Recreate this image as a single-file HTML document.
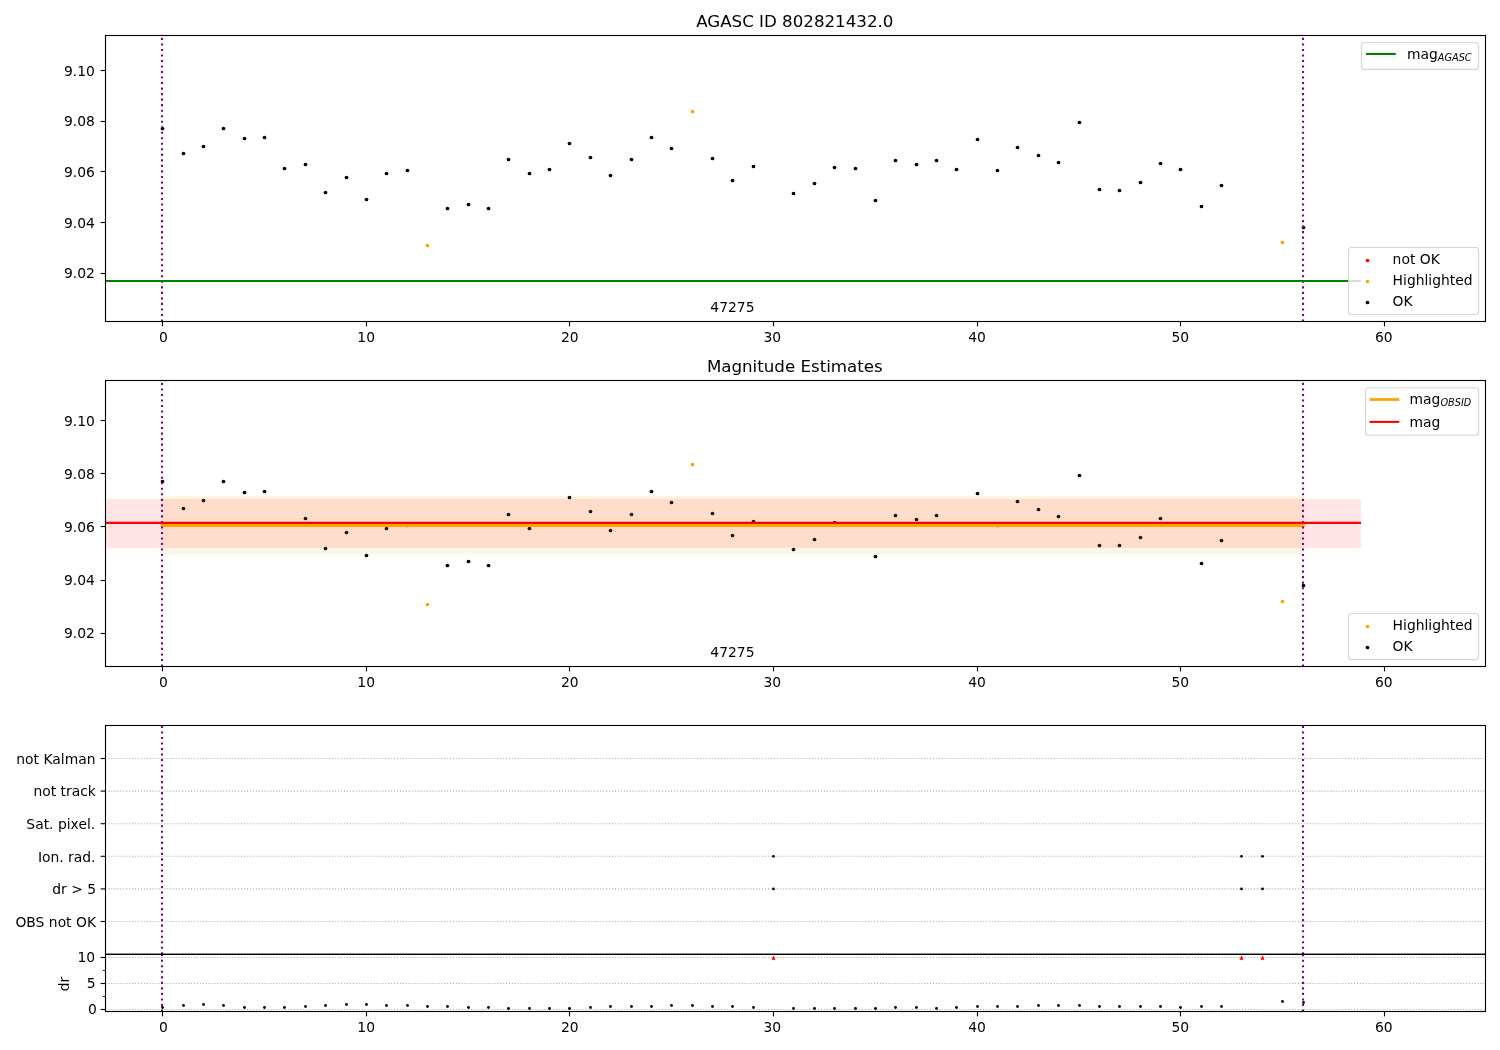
<!DOCTYPE html>
<html><head><meta charset="utf-8"><title>AGASC ID 802821432.0</title><style>html,body{margin:0;padding:0;background:#fff;}svg{display:block;}</style></head><body>
<svg width="1500" height="1050" viewBox="0 0 1500 1050" font-family="'DejaVu Sans', 'Liberation Sans', sans-serif" fill="#000">
<rect x="0" y="0" width="1500" height="1050" fill="#fff"/>
<clipPath id="c1"><rect x="105.5" y="35.5" width="1380.0" height="286.0"/></clipPath>
<g clip-path="url(#c1)">
<circle cx="162.5" cy="128.5" r="1.85" fill="#000"/>
<circle cx="183.5" cy="153.5" r="1.85" fill="#000"/>
<circle cx="203.5" cy="146.5" r="1.85" fill="#000"/>
<circle cx="223.5" cy="128.5" r="1.85" fill="#000"/>
<circle cx="244.5" cy="138.5" r="1.85" fill="#000"/>
<circle cx="264.5" cy="137.5" r="1.85" fill="#000"/>
<circle cx="284.5" cy="168.5" r="1.85" fill="#000"/>
<circle cx="305.5" cy="164.5" r="1.85" fill="#000"/>
<circle cx="325.5" cy="192.5" r="1.85" fill="#000"/>
<circle cx="346.5" cy="177.5" r="1.85" fill="#000"/>
<circle cx="366.5" cy="199.5" r="1.85" fill="#000"/>
<circle cx="386.5" cy="173.5" r="1.85" fill="#000"/>
<circle cx="407.5" cy="170.5" r="1.85" fill="#000"/>
<circle cx="427.5" cy="245.5" r="1.85" fill="#ffa500"/>
<circle cx="447.5" cy="208.5" r="1.85" fill="#000"/>
<circle cx="468.5" cy="204.5" r="1.85" fill="#000"/>
<circle cx="488.5" cy="208.5" r="1.85" fill="#000"/>
<circle cx="508.5" cy="159.5" r="1.85" fill="#000"/>
<circle cx="529.5" cy="173.5" r="1.85" fill="#000"/>
<circle cx="549.5" cy="169.5" r="1.85" fill="#000"/>
<circle cx="569.5" cy="143.5" r="1.85" fill="#000"/>
<circle cx="590.5" cy="157.5" r="1.85" fill="#000"/>
<circle cx="610.5" cy="175.5" r="1.85" fill="#000"/>
<circle cx="631.5" cy="159.5" r="1.85" fill="#000"/>
<circle cx="651.5" cy="137.5" r="1.85" fill="#000"/>
<circle cx="671.5" cy="148.5" r="1.85" fill="#000"/>
<circle cx="692.5" cy="111.5" r="1.85" fill="#ffa500"/>
<circle cx="712.5" cy="158.5" r="1.85" fill="#000"/>
<circle cx="732.5" cy="180.5" r="1.85" fill="#000"/>
<circle cx="753.5" cy="166.5" r="1.85" fill="#000"/>
<circle cx="793.5" cy="193.5" r="1.85" fill="#000"/>
<circle cx="814.5" cy="183.5" r="1.85" fill="#000"/>
<circle cx="834.5" cy="167.5" r="1.85" fill="#000"/>
<circle cx="855.5" cy="168.5" r="1.85" fill="#000"/>
<circle cx="875.5" cy="200.5" r="1.85" fill="#000"/>
<circle cx="895.5" cy="160.5" r="1.85" fill="#000"/>
<circle cx="916.5" cy="164.5" r="1.85" fill="#000"/>
<circle cx="936.5" cy="160.5" r="1.85" fill="#000"/>
<circle cx="956.5" cy="169.5" r="1.85" fill="#000"/>
<circle cx="977.5" cy="139.5" r="1.85" fill="#000"/>
<circle cx="997.5" cy="170.5" r="1.85" fill="#000"/>
<circle cx="1017.5" cy="147.5" r="1.85" fill="#000"/>
<circle cx="1038.5" cy="155.5" r="1.85" fill="#000"/>
<circle cx="1058.5" cy="162.5" r="1.85" fill="#000"/>
<circle cx="1079.5" cy="122.5" r="1.85" fill="#000"/>
<circle cx="1099.5" cy="189.5" r="1.85" fill="#000"/>
<circle cx="1119.5" cy="190.5" r="1.85" fill="#000"/>
<circle cx="1140.5" cy="182.5" r="1.85" fill="#000"/>
<circle cx="1160.5" cy="163.5" r="1.85" fill="#000"/>
<circle cx="1180.5" cy="169.5" r="1.85" fill="#000"/>
<circle cx="1201.5" cy="206.5" r="1.85" fill="#000"/>
<circle cx="1221.5" cy="185.5" r="1.85" fill="#000"/>
<circle cx="1282.5" cy="242.5" r="1.85" fill="#ffa500"/>
<circle cx="1303.5" cy="227.5" r="1.85" fill="#000"/>
<line x1="162.0" y1="321.5" x2="162.0" y2="35.5" stroke="#800080" stroke-width="2.0833" stroke-dasharray="2.0833 3.4375"/>
<line x1="1303.0" y1="321.5" x2="1303.0" y2="35.5" stroke="#800080" stroke-width="2.0833" stroke-dasharray="2.0833 3.4375"/>
<line x1="105.5" y1="281.0" x2="1361.0" y2="281.0" stroke="#008000" stroke-width="2.0833"/>
</g>
<text x="732.40" y="311.90" font-size="13.8889" text-anchor="middle">47275</text>
<rect x="105.5" y="35.5" width="1380.0" height="286.0" fill="none" stroke="#000" stroke-width="1.1111" stroke-linejoin="miter"/>
<line x1="162.5" y1="321.5" x2="162.5" y2="326.361" stroke="#000" stroke-width="1.1111"/>
<text x="163.30" y="341.80" font-size="13.8889" text-anchor="middle">0</text>
<line x1="366.5" y1="321.5" x2="366.5" y2="326.361" stroke="#000" stroke-width="1.1111"/>
<text x="366.20" y="341.80" font-size="13.8889" text-anchor="middle">10</text>
<line x1="569.5" y1="321.5" x2="569.5" y2="326.361" stroke="#000" stroke-width="1.1111"/>
<text x="569.80" y="341.80" font-size="13.8889" text-anchor="middle">20</text>
<line x1="773.5" y1="321.5" x2="773.5" y2="326.361" stroke="#000" stroke-width="1.1111"/>
<text x="772.35" y="341.80" font-size="13.8889" text-anchor="middle">30</text>
<line x1="977.5" y1="321.5" x2="977.5" y2="326.361" stroke="#000" stroke-width="1.1111"/>
<text x="977.10" y="341.80" font-size="13.8889" text-anchor="middle">40</text>
<line x1="1180.5" y1="321.5" x2="1180.5" y2="326.361" stroke="#000" stroke-width="1.1111"/>
<text x="1180.35" y="341.80" font-size="13.8889" text-anchor="middle">50</text>
<line x1="1384.5" y1="321.5" x2="1384.5" y2="326.361" stroke="#000" stroke-width="1.1111"/>
<text x="1383.80" y="341.80" font-size="13.8889" text-anchor="middle">60</text>
<line x1="100.639" y1="70.5" x2="105.5" y2="70.5" stroke="#000" stroke-width="1.1111"/>
<text x="94.80" y="76.00" font-size="13.8889" text-anchor="end">9.10</text>
<line x1="100.639" y1="121.5" x2="105.5" y2="121.5" stroke="#000" stroke-width="1.1111"/>
<text x="94.80" y="126.00" font-size="13.8889" text-anchor="end">9.08</text>
<line x1="100.639" y1="171.5" x2="105.5" y2="171.5" stroke="#000" stroke-width="1.1111"/>
<text x="94.80" y="177.00" font-size="13.8889" text-anchor="end">9.06</text>
<line x1="100.639" y1="222.5" x2="105.5" y2="222.5" stroke="#000" stroke-width="1.1111"/>
<text x="94.80" y="228.00" font-size="13.8889" text-anchor="end">9.04</text>
<line x1="100.639" y1="273.5" x2="105.5" y2="273.5" stroke="#000" stroke-width="1.1111"/>
<text x="94.80" y="278.00" font-size="13.8889" text-anchor="end">9.02</text>
<text x="794.80" y="27.20" font-size="16.6667" text-anchor="middle">AGASC ID 802821432.0</text>
<rect x="1361.4" y="42.5" width="117.19999999999982" height="26.900000000000006" rx="2.8" ry="2.8" fill="#fff" fill-opacity="0.8" stroke="#cccccc" stroke-opacity="0.8" stroke-width="1.1111"/>
<line x1="1366.96" y1="53.95" x2="1394.74" y2="53.95" stroke="#008000" stroke-width="2.0833" stroke-linecap="square"/>
<text x="1407.0" y="58.8" font-size="13.8889">mag<tspan font-style="italic" font-size="9.7222" dy="1.9">AGASC</tspan></text>
<rect x="1348.5" y="247.5" width="130.0999999999999" height="67.0" rx="2.8" ry="2.8" fill="#fff" fill-opacity="0.8" stroke="#cccccc" stroke-opacity="0.8" stroke-width="1.1111"/>
<circle cx="1367.5" cy="260.5" r="1.85" fill="#ff0000"/>
<text x="1392.60" y="264.10" font-size="13.8889" text-anchor="start">not OK</text>
<circle cx="1367.5" cy="281.5" r="1.85" fill="#ffa500"/>
<text x="1392.60" y="285.10" font-size="13.8889" text-anchor="start">Highlighted</text>
<circle cx="1367.5" cy="302.5" r="1.85" fill="#000"/>
<text x="1392.60" y="306.10" font-size="13.8889" text-anchor="start">OK</text>
<clipPath id="c2"><rect x="105.5" y="380.5" width="1380.0" height="286.0"/></clipPath>
<g clip-path="url(#c2)">
<circle cx="162.5" cy="481.5" r="1.85" fill="#000"/>
<circle cx="183.5" cy="508.5" r="1.85" fill="#000"/>
<circle cx="203.5" cy="500.5" r="1.85" fill="#000"/>
<circle cx="223.5" cy="481.5" r="1.85" fill="#000"/>
<circle cx="244.5" cy="492.5" r="1.85" fill="#000"/>
<circle cx="264.5" cy="491.5" r="1.85" fill="#000"/>
<circle cx="284.5" cy="523.5" r="1.85" fill="#000"/>
<circle cx="305.5" cy="518.5" r="1.85" fill="#000"/>
<circle cx="325.5" cy="548.5" r="1.85" fill="#000"/>
<circle cx="346.5" cy="532.5" r="1.85" fill="#000"/>
<circle cx="366.5" cy="555.5" r="1.85" fill="#000"/>
<circle cx="386.5" cy="528.5" r="1.85" fill="#000"/>
<circle cx="407.5" cy="525.5" r="1.85" fill="#000"/>
<circle cx="427.5" cy="604.5" r="1.85" fill="#ffa500"/>
<circle cx="447.5" cy="565.5" r="1.85" fill="#000"/>
<circle cx="468.5" cy="561.5" r="1.85" fill="#000"/>
<circle cx="488.5" cy="565.5" r="1.85" fill="#000"/>
<circle cx="508.5" cy="514.5" r="1.85" fill="#000"/>
<circle cx="529.5" cy="528.5" r="1.85" fill="#000"/>
<circle cx="549.5" cy="524.5" r="1.85" fill="#000"/>
<circle cx="569.5" cy="497.5" r="1.85" fill="#000"/>
<circle cx="590.5" cy="511.5" r="1.85" fill="#000"/>
<circle cx="610.5" cy="530.5" r="1.85" fill="#000"/>
<circle cx="631.5" cy="514.5" r="1.85" fill="#000"/>
<circle cx="651.5" cy="491.5" r="1.85" fill="#000"/>
<circle cx="671.5" cy="502.5" r="1.85" fill="#000"/>
<circle cx="692.5" cy="464.5" r="1.85" fill="#ffa500"/>
<circle cx="712.5" cy="513.5" r="1.85" fill="#000"/>
<circle cx="732.5" cy="535.5" r="1.85" fill="#000"/>
<circle cx="753.5" cy="521.5" r="1.85" fill="#000"/>
<circle cx="793.5" cy="549.5" r="1.85" fill="#000"/>
<circle cx="814.5" cy="539.5" r="1.85" fill="#000"/>
<circle cx="834.5" cy="522.5" r="1.85" fill="#000"/>
<circle cx="855.5" cy="523.5" r="1.85" fill="#000"/>
<circle cx="875.5" cy="556.5" r="1.85" fill="#000"/>
<circle cx="895.5" cy="515.5" r="1.85" fill="#000"/>
<circle cx="916.5" cy="519.5" r="1.85" fill="#000"/>
<circle cx="936.5" cy="515.5" r="1.85" fill="#000"/>
<circle cx="956.5" cy="524.5" r="1.85" fill="#000"/>
<circle cx="977.5" cy="493.5" r="1.85" fill="#000"/>
<circle cx="997.5" cy="525.5" r="1.85" fill="#000"/>
<circle cx="1017.5" cy="501.5" r="1.85" fill="#000"/>
<circle cx="1038.5" cy="509.5" r="1.85" fill="#000"/>
<circle cx="1058.5" cy="516.5" r="1.85" fill="#000"/>
<circle cx="1079.5" cy="475.5" r="1.85" fill="#000"/>
<circle cx="1099.5" cy="545.5" r="1.85" fill="#000"/>
<circle cx="1119.5" cy="545.5" r="1.85" fill="#000"/>
<circle cx="1140.5" cy="537.5" r="1.85" fill="#000"/>
<circle cx="1160.5" cy="518.5" r="1.85" fill="#000"/>
<circle cx="1180.5" cy="524.5" r="1.85" fill="#000"/>
<circle cx="1201.5" cy="563.5" r="1.85" fill="#000"/>
<circle cx="1221.5" cy="540.5" r="1.85" fill="#000"/>
<circle cx="1282.5" cy="601.5" r="1.85" fill="#ffa500"/>
<circle cx="1303.5" cy="585.5" r="1.85" fill="#000"/>
<rect x="162.0" y="496.1" width="1141.5" height="58.60000000000002" fill="#ffa500" fill-opacity="0.1"/>
<rect x="105.5" y="498.9" width="1255.5" height="49.0" fill="#ff0000" fill-opacity="0.1"/>
<line x1="162.4" y1="525.5" x2="1303.4" y2="525.5" stroke="#ffa500" stroke-width="2.7778" stroke-linecap="square"/>
<line x1="162.0" y1="666.5" x2="162.0" y2="380.5" stroke="#800080" stroke-width="2.0833" stroke-dasharray="2.0833 3.4375"/>
<line x1="1303.0" y1="666.5" x2="1303.0" y2="380.5" stroke="#800080" stroke-width="2.0833" stroke-dasharray="2.0833 3.4375"/>
<line x1="105.5" y1="522.9" x2="1361.0" y2="522.9" stroke="#ff0000" stroke-width="2.0833"/>
</g>
<text x="732.40" y="656.90" font-size="13.8889" text-anchor="middle">47275</text>
<rect x="105.5" y="380.5" width="1380.0" height="286.0" fill="none" stroke="#000" stroke-width="1.1111" stroke-linejoin="miter"/>
<line x1="162.5" y1="666.5" x2="162.5" y2="671.361" stroke="#000" stroke-width="1.1111"/>
<text x="163.30" y="686.80" font-size="13.8889" text-anchor="middle">0</text>
<line x1="366.5" y1="666.5" x2="366.5" y2="671.361" stroke="#000" stroke-width="1.1111"/>
<text x="366.20" y="686.80" font-size="13.8889" text-anchor="middle">10</text>
<line x1="569.5" y1="666.5" x2="569.5" y2="671.361" stroke="#000" stroke-width="1.1111"/>
<text x="569.80" y="686.80" font-size="13.8889" text-anchor="middle">20</text>
<line x1="773.5" y1="666.5" x2="773.5" y2="671.361" stroke="#000" stroke-width="1.1111"/>
<text x="772.35" y="686.80" font-size="13.8889" text-anchor="middle">30</text>
<line x1="977.5" y1="666.5" x2="977.5" y2="671.361" stroke="#000" stroke-width="1.1111"/>
<text x="977.10" y="686.80" font-size="13.8889" text-anchor="middle">40</text>
<line x1="1180.5" y1="666.5" x2="1180.5" y2="671.361" stroke="#000" stroke-width="1.1111"/>
<text x="1180.35" y="686.80" font-size="13.8889" text-anchor="middle">50</text>
<line x1="1384.5" y1="666.5" x2="1384.5" y2="671.361" stroke="#000" stroke-width="1.1111"/>
<text x="1383.80" y="686.80" font-size="13.8889" text-anchor="middle">60</text>
<line x1="100.639" y1="420.5" x2="105.5" y2="420.5" stroke="#000" stroke-width="1.1111"/>
<text x="94.80" y="426.00" font-size="13.8889" text-anchor="end">9.10</text>
<line x1="100.639" y1="473.5" x2="105.5" y2="473.5" stroke="#000" stroke-width="1.1111"/>
<text x="94.80" y="479.00" font-size="13.8889" text-anchor="end">9.08</text>
<line x1="100.639" y1="526.5" x2="105.5" y2="526.5" stroke="#000" stroke-width="1.1111"/>
<text x="94.80" y="532.00" font-size="13.8889" text-anchor="end">9.06</text>
<line x1="100.639" y1="580.5" x2="105.5" y2="580.5" stroke="#000" stroke-width="1.1111"/>
<text x="94.80" y="585.00" font-size="13.8889" text-anchor="end">9.04</text>
<line x1="100.639" y1="633.5" x2="105.5" y2="633.5" stroke="#000" stroke-width="1.1111"/>
<text x="94.80" y="638.00" font-size="13.8889" text-anchor="end">9.02</text>
<text x="794.80" y="372.20" font-size="16.6667" text-anchor="middle">Magnitude Estimates</text>
<rect x="1365.6" y="387.7" width="113.0" height="47.5" rx="2.8" ry="2.8" fill="#fff" fill-opacity="0.8" stroke="#cccccc" stroke-opacity="0.8" stroke-width="1.1111"/>
<line x1="1371.0" y1="399.5" x2="1398.0" y2="399.5" stroke="#ffa500" stroke-width="2.7778" stroke-linecap="square"/>
<line x1="1370.5" y1="421.9" x2="1398.3" y2="421.9" stroke="#ff0000" stroke-width="2.0833" stroke-linecap="square"/>
<text x="1409.6" y="403.9" font-size="13.8889">mag<tspan font-style="italic" font-size="9.7222" dy="1.9">OBSID</tspan></text>
<text x="1409.60" y="426.80" font-size="13.8889" text-anchor="start">mag</text>
<rect x="1348.5" y="613.5" width="130.0999999999999" height="46.10000000000002" rx="2.8" ry="2.8" fill="#fff" fill-opacity="0.8" stroke="#cccccc" stroke-opacity="0.8" stroke-width="1.1111"/>
<circle cx="1367.5" cy="626.5" r="1.85" fill="#ffa500"/>
<text x="1392.60" y="629.80" font-size="13.8889" text-anchor="start">Highlighted</text>
<circle cx="1367.5" cy="647.5" r="1.85" fill="#000"/>
<text x="1392.60" y="650.80" font-size="13.8889" text-anchor="start">OK</text>
<clipPath id="c3"><rect x="105.5" y="725.5" width="1380.0" height="228.79999999999995"/></clipPath>
<g clip-path="url(#c3)">
<line x1="105.5" y1="921.5" x2="1485.5" y2="921.5" stroke="#b0b0b0" stroke-width="1.1111" stroke-dasharray="1.1111 1.8333"/>
<line x1="105.5" y1="888.9" x2="1485.5" y2="888.9" stroke="#b0b0b0" stroke-width="1.1111" stroke-dasharray="1.1111 1.8333"/>
<line x1="105.5" y1="856.3" x2="1485.5" y2="856.3" stroke="#b0b0b0" stroke-width="1.1111" stroke-dasharray="1.1111 1.8333"/>
<line x1="105.5" y1="823.7" x2="1485.5" y2="823.7" stroke="#b0b0b0" stroke-width="1.1111" stroke-dasharray="1.1111 1.8333"/>
<line x1="105.5" y1="791.1" x2="1485.5" y2="791.1" stroke="#b0b0b0" stroke-width="1.1111" stroke-dasharray="1.1111 1.8333"/>
<line x1="105.5" y1="758.5" x2="1485.5" y2="758.5" stroke="#b0b0b0" stroke-width="1.1111" stroke-dasharray="1.1111 1.8333"/>
<circle cx="773.5" cy="856.3" r="1.4" fill="#000"/>
<circle cx="773.5" cy="888.9" r="1.4" fill="#000"/>
<circle cx="1241.5" cy="856.3" r="1.4" fill="#000"/>
<circle cx="1241.5" cy="888.9" r="1.4" fill="#000"/>
<circle cx="1262.5" cy="856.3" r="1.4" fill="#000"/>
<circle cx="1262.5" cy="888.9" r="1.4" fill="#000"/>
<line x1="162.0" y1="954.3" x2="162.0" y2="725.5" stroke="#800080" stroke-width="2.0833" stroke-dasharray="2.0833 3.4375"/>
<line x1="1303.0" y1="954.3" x2="1303.0" y2="725.5" stroke="#800080" stroke-width="2.0833" stroke-dasharray="2.0833 3.4375"/>
</g>
<rect x="105.5" y="725.5" width="1380.0" height="228.79999999999995" fill="none" stroke="#000" stroke-width="1.1111"/>
<line x1="100.639" y1="921.5" x2="105.5" y2="921.5" stroke="#000" stroke-width="1.1111"/>
<text x="96.00" y="927.00" font-size="13.8889" text-anchor="end">OBS not OK</text>
<line x1="100.639" y1="888.9" x2="105.5" y2="888.9" stroke="#000" stroke-width="1.1111"/>
<text x="96.10" y="894.00" font-size="13.8889" text-anchor="end">dr &gt; 5</text>
<line x1="100.639" y1="856.3" x2="105.5" y2="856.3" stroke="#000" stroke-width="1.1111"/>
<text x="95.50" y="862.00" font-size="13.8889" text-anchor="end">Ion. rad.</text>
<line x1="100.639" y1="823.7" x2="105.5" y2="823.7" stroke="#000" stroke-width="1.1111"/>
<text x="95.20" y="829.00" font-size="13.8889" text-anchor="end">Sat. pixel.</text>
<line x1="100.639" y1="791.1" x2="105.5" y2="791.1" stroke="#000" stroke-width="1.1111"/>
<text x="95.90" y="796.00" font-size="13.8889" text-anchor="end">not track</text>
<line x1="100.639" y1="758.5" x2="105.5" y2="758.5" stroke="#000" stroke-width="1.1111"/>
<text x="95.50" y="764.00" font-size="13.8889" text-anchor="end">not Kalman</text>
<clipPath id="c4"><rect x="105.5" y="954.3" width="1380.0" height="57.200000000000045"/></clipPath>
<g clip-path="url(#c4)">
<line x1="105.5" y1="1009.5" x2="1485.5" y2="1009.5" stroke="#b0b0b0" stroke-width="1.1111" stroke-dasharray="1.1111 1.8333"/>
<line x1="105.5" y1="983.5" x2="1485.5" y2="983.5" stroke="#b0b0b0" stroke-width="1.1111" stroke-dasharray="1.1111 1.8333"/>
<line x1="105.5" y1="957.5" x2="1485.5" y2="957.5" stroke="#b0b0b0" stroke-width="1.1111" stroke-dasharray="1.1111 1.8333"/>
<circle cx="162.5" cy="1007.5" r="1.4" fill="#000"/>
<circle cx="183.5" cy="1005.5" r="1.4" fill="#000"/>
<circle cx="203.5" cy="1004.5" r="1.4" fill="#000"/>
<circle cx="223.5" cy="1005.5" r="1.4" fill="#000"/>
<circle cx="244.5" cy="1007.5" r="1.4" fill="#000"/>
<circle cx="264.5" cy="1007.5" r="1.4" fill="#000"/>
<circle cx="284.5" cy="1007.5" r="1.4" fill="#000"/>
<circle cx="305.5" cy="1006.5" r="1.4" fill="#000"/>
<circle cx="325.5" cy="1005.5" r="1.4" fill="#000"/>
<circle cx="346.5" cy="1004.5" r="1.4" fill="#000"/>
<circle cx="366.5" cy="1004.5" r="1.4" fill="#000"/>
<circle cx="386.5" cy="1005.5" r="1.4" fill="#000"/>
<circle cx="407.5" cy="1005.5" r="1.4" fill="#000"/>
<circle cx="427.5" cy="1006.5" r="1.4" fill="#000"/>
<circle cx="447.5" cy="1006.5" r="1.4" fill="#000"/>
<circle cx="468.5" cy="1007.5" r="1.4" fill="#000"/>
<circle cx="488.5" cy="1007.5" r="1.4" fill="#000"/>
<circle cx="508.5" cy="1008.5" r="1.4" fill="#000"/>
<circle cx="529.5" cy="1008.5" r="1.4" fill="#000"/>
<circle cx="549.5" cy="1008.5" r="1.4" fill="#000"/>
<circle cx="569.5" cy="1008.5" r="1.4" fill="#000"/>
<circle cx="590.5" cy="1007.5" r="1.4" fill="#000"/>
<circle cx="610.5" cy="1006.5" r="1.4" fill="#000"/>
<circle cx="631.5" cy="1006.5" r="1.4" fill="#000"/>
<circle cx="651.5" cy="1006.5" r="1.4" fill="#000"/>
<circle cx="671.5" cy="1005.5" r="1.4" fill="#000"/>
<circle cx="692.5" cy="1005.5" r="1.4" fill="#000"/>
<circle cx="712.5" cy="1006.5" r="1.4" fill="#000"/>
<circle cx="732.5" cy="1006.5" r="1.4" fill="#000"/>
<circle cx="753.5" cy="1007.5" r="1.4" fill="#000"/>
<circle cx="793.5" cy="1008.5" r="1.4" fill="#000"/>
<circle cx="814.5" cy="1008.5" r="1.4" fill="#000"/>
<circle cx="834.5" cy="1008.5" r="1.4" fill="#000"/>
<circle cx="855.5" cy="1008.5" r="1.4" fill="#000"/>
<circle cx="875.5" cy="1008.5" r="1.4" fill="#000"/>
<circle cx="895.5" cy="1007.5" r="1.4" fill="#000"/>
<circle cx="916.5" cy="1007.5" r="1.4" fill="#000"/>
<circle cx="936.5" cy="1008.5" r="1.4" fill="#000"/>
<circle cx="956.5" cy="1007.5" r="1.4" fill="#000"/>
<circle cx="977.5" cy="1006.5" r="1.4" fill="#000"/>
<circle cx="997.5" cy="1006.5" r="1.4" fill="#000"/>
<circle cx="1017.5" cy="1006.5" r="1.4" fill="#000"/>
<circle cx="1038.5" cy="1005.5" r="1.4" fill="#000"/>
<circle cx="1058.5" cy="1005.5" r="1.4" fill="#000"/>
<circle cx="1079.5" cy="1005.5" r="1.4" fill="#000"/>
<circle cx="1099.5" cy="1006.5" r="1.4" fill="#000"/>
<circle cx="1119.5" cy="1006.5" r="1.4" fill="#000"/>
<circle cx="1140.5" cy="1006.5" r="1.4" fill="#000"/>
<circle cx="1160.5" cy="1006.5" r="1.4" fill="#000"/>
<circle cx="1180.5" cy="1007.5" r="1.4" fill="#000"/>
<circle cx="1201.5" cy="1006.5" r="1.4" fill="#000"/>
<circle cx="1221.5" cy="1006.5" r="1.4" fill="#000"/>
<circle cx="1282.5" cy="1001.5" r="1.4" fill="#000"/>
<circle cx="1303.5" cy="1002.5" r="1.4" fill="#000"/>
<polygon points="773.50,955.5 775.50,959.8 771.50,959.8" fill="#ff0000"/>
<polygon points="1241.50,955.5 1243.50,959.8 1239.50,959.8" fill="#ff0000"/>
<polygon points="1262.50,955.5 1264.50,959.8 1260.50,959.8" fill="#ff0000"/>
<line x1="162.0" y1="1011.5" x2="162.0" y2="954.3" stroke="#800080" stroke-width="2.0833" stroke-dasharray="2.0833 3.4375"/>
<line x1="1303.0" y1="1011.5" x2="1303.0" y2="954.3" stroke="#800080" stroke-width="2.0833" stroke-dasharray="2.0833 3.4375"/>
</g>
<rect x="105.5" y="954.3" width="1380.0" height="57.200000000000045" fill="none" stroke="#000" stroke-width="1.1111" stroke-linejoin="miter"/>
<line x1="162.5" y1="1011.5" x2="162.5" y2="1016.361" stroke="#000" stroke-width="1.1111"/>
<text x="163.30" y="1031.80" font-size="13.8889" text-anchor="middle">0</text>
<line x1="366.5" y1="1011.5" x2="366.5" y2="1016.361" stroke="#000" stroke-width="1.1111"/>
<text x="366.20" y="1031.80" font-size="13.8889" text-anchor="middle">10</text>
<line x1="569.5" y1="1011.5" x2="569.5" y2="1016.361" stroke="#000" stroke-width="1.1111"/>
<text x="569.80" y="1031.80" font-size="13.8889" text-anchor="middle">20</text>
<line x1="773.5" y1="1011.5" x2="773.5" y2="1016.361" stroke="#000" stroke-width="1.1111"/>
<text x="772.35" y="1031.80" font-size="13.8889" text-anchor="middle">30</text>
<line x1="977.5" y1="1011.5" x2="977.5" y2="1016.361" stroke="#000" stroke-width="1.1111"/>
<text x="977.10" y="1031.80" font-size="13.8889" text-anchor="middle">40</text>
<line x1="1180.5" y1="1011.5" x2="1180.5" y2="1016.361" stroke="#000" stroke-width="1.1111"/>
<text x="1180.35" y="1031.80" font-size="13.8889" text-anchor="middle">50</text>
<line x1="1384.5" y1="1011.5" x2="1384.5" y2="1016.361" stroke="#000" stroke-width="1.1111"/>
<text x="1383.80" y="1031.80" font-size="13.8889" text-anchor="middle">60</text>
<line x1="100.639" y1="1009.5" x2="105.5" y2="1009.5" stroke="#000" stroke-width="1.1111"/>
<text x="96.80" y="1014.00" font-size="13.8889" text-anchor="end">0</text>
<line x1="100.639" y1="983.5" x2="105.5" y2="983.5" stroke="#000" stroke-width="1.1111"/>
<text x="95.70" y="988.00" font-size="13.8889" text-anchor="end">5</text>
<line x1="100.639" y1="957.5" x2="105.5" y2="957.5" stroke="#000" stroke-width="1.1111"/>
<text x="95.10" y="962.00" font-size="13.8889" text-anchor="end">10</text>
<line x1="102.722" y1="996.5" x2="105.5" y2="996.5" stroke="#000" stroke-width="0.8333"/>
<line x1="102.722" y1="970.5" x2="105.5" y2="970.5" stroke="#000" stroke-width="0.8333"/>
<text x="0" y="0" font-size="13.8889" text-anchor="middle" transform="translate(69.0 984) rotate(-90)">dr</text>
</svg>
</body></html>
